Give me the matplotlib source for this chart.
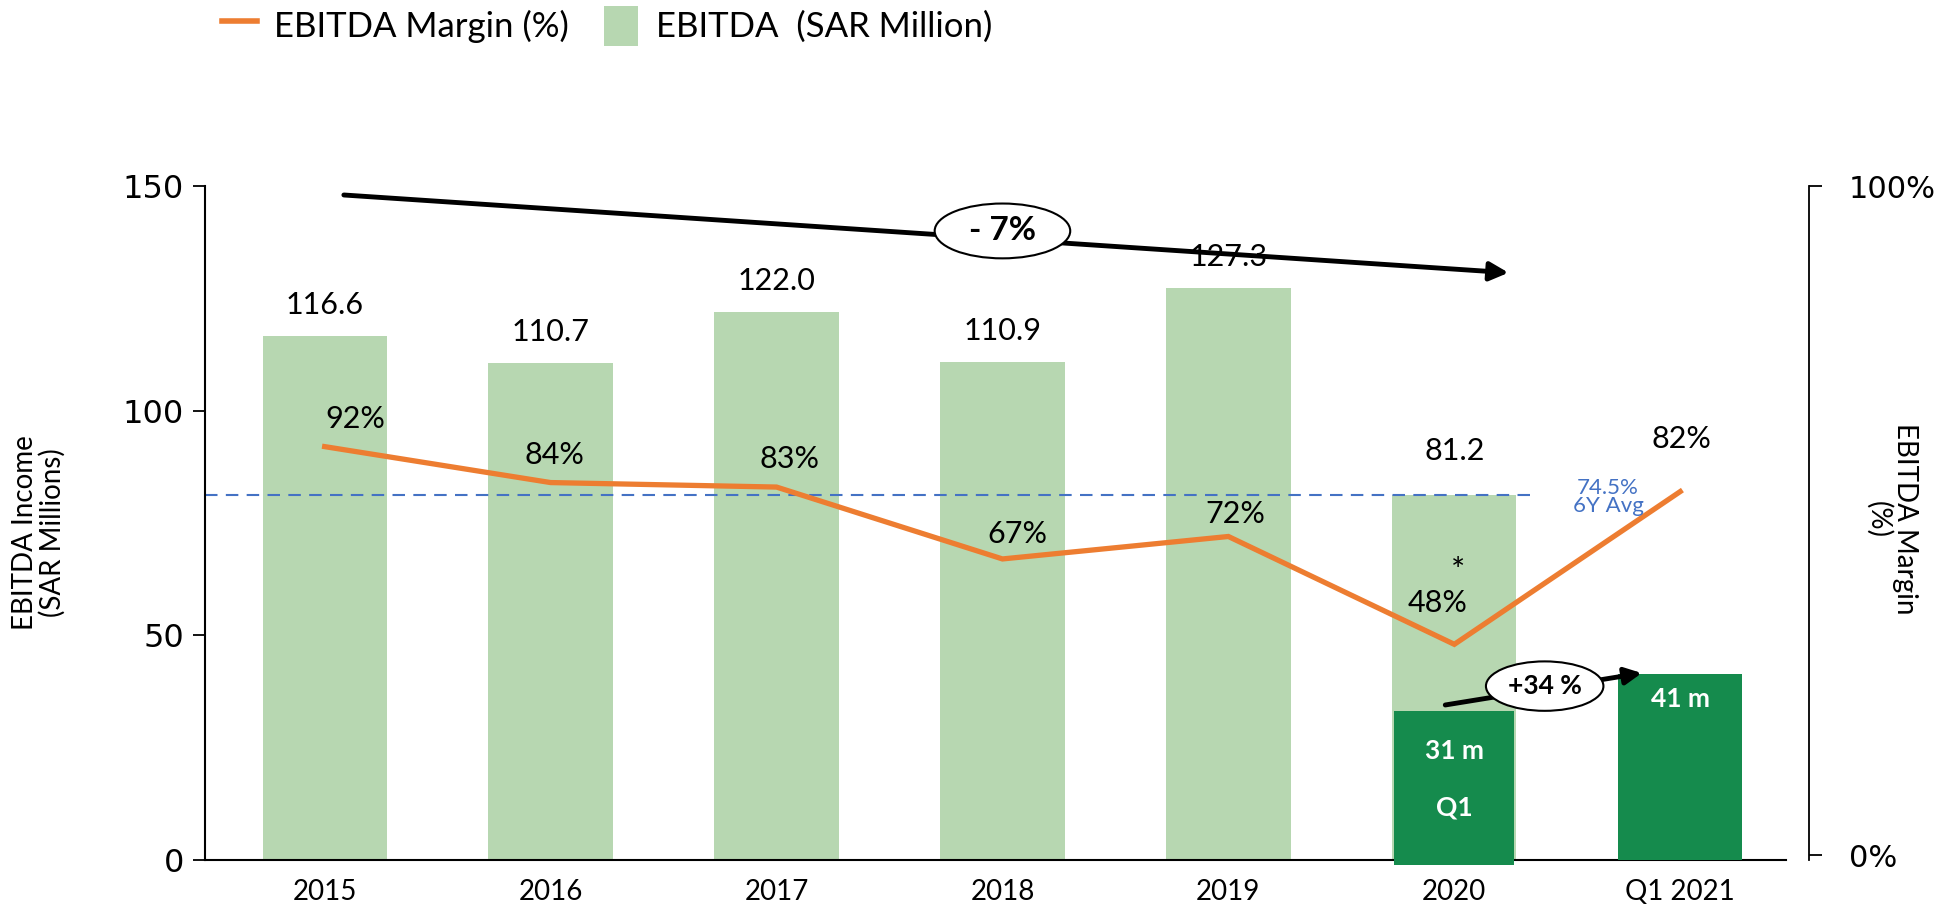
import matplotlib
matplotlib.use("Agg")
import matplotlib.pyplot as plt
from matplotlib.lines import Line2D
from matplotlib.patches import Patch, Ellipse

# data
categories = ["2015", "2016", "2017", "2018", "2019", "2020", "Q1 2021"]
ebitda = [116.6, 110.7, 122.0, 110.9, 127.3, 81.2]          # SAR million, full years
ebitda_labels = ["116.6", "110.7", "122.0", "110.9", "127.3", "81.2"]
margin = [92, 84, 83, 67, 72, 48, 82]                       # EBITDA margin (%)
margin_labels = ["92%", "84%", "83%", "67%", "72%", "48%", "82%"]
q1_index = [5, 6]                                           # Q1 2020 and Q1 2021
q1_values = [33.2, 41.4]
q1_labels = ["31 m", "41 m"]
avg_level = 81.3
avg_text = "74.5%\n6Y Avg"

light_green = "#B7D7B1"
dark_green = "#158B4D"
orange = "#ED7D31"
blue = "#4472C4"
font = "Lato"

fig = plt.figure(figsize=(19.46, 9.19), dpi=100)
ax = fig.add_axes([0.1053, 0.0642, 0.8127, 0.7334])

x = list(range(len(categories)))

# light green yearly bars
ax.bar(x[:len(ebitda)], ebitda, width=0.55, color=light_green, zorder=1)
for i, (v, lab) in enumerate(zip(ebitda, ebitda_labels)):
    off = 22 if i == 5 else 12
    ax.annotate(lab, (i, v), xytext=(0, off), textcoords="offset points",
                ha="center", va="bottom", fontsize=22, family=font)

# dark green Q1 bars (the 2020 one hangs a little below the axis, like the original)
ax.bar(q1_index[0], q1_values[0] + 1.2, bottom=-1.2, width=0.53, color=dark_green,
       zorder=3, clip_on=False)
ax.bar(q1_index[1], q1_values[1], width=0.55, color=dark_green, zorder=3)
ax.text(q1_index[0], q1_values[0] - 9, q1_labels[0], ha="center", va="center",
        color="white", fontsize=19, fontweight="bold", family=font, zorder=6)
ax.text(q1_index[0], q1_values[0] - 21.5, "Q1", ha="center", va="center",
        color="white", fontsize=19, fontweight="bold", family=font, zorder=6)
ax.text(q1_index[1], q1_values[1] - 5.5, q1_labels[1], ha="center", va="center",
        color="white", fontsize=19, fontweight="bold", family=font, zorder=6)

# 6 year average dashed line
ax.hlines(avg_level, -0.53, 5.37, colors=blue, linestyles=(0, (6, 4)), lw=1.5, zorder=2)
ax.text(5.68, avg_level - 0.5, avg_text, ha="center", va="center", color=blue,
        fontsize=16, family=font, linespacing=0.85, zorder=6)

# margin line (drawn on the left scale, as in the original)
ax.plot(x, margin, color=orange, lw=3.8, zorder=4, solid_joinstyle="miter")
lab_off = [(22, 20), (3, 20), (9, 20), (11, 18), (5, 16), (-12, 30), (1, 38)]
for xi, m, lab, (dx, dy) in zip(x, margin, margin_labels, lab_off):
    ax.annotate(lab, (xi, m), xytext=(dx, dy), textcoords="offset points",
                ha="center", va="center", fontsize=22, family=font, zorder=6)
ax.annotate("*", (5, margin[5]), xytext=(3, 52), textcoords="offset points",
            ha="center", va="center", fontsize=24, family=font, zorder=6)

# trend arrows with ovals
ax.annotate("", xy=(5.24, 130.7), xytext=(0.085, 148),
            arrowprops=dict(arrowstyle="-|>", lw=3.5, color="black",
                            mutation_scale=28, shrinkA=0, shrinkB=0), zorder=5)
ax.add_patch(Ellipse((3.0, 140), 0.6, 12.2, facecolor="white", edgecolor="black",
                     lw=1.5, zorder=6))
ax.text(3.0, 140, "- 7%", ha="center", va="center", fontsize=24,
        fontweight="bold", family=font, zorder=7)

ax.annotate("", xy=(5.83, 41.6), xytext=(4.96, 34.5),
            arrowprops=dict(arrowstyle="-|>", lw=3.5, color="black",
                            mutation_scale=25, shrinkA=0, shrinkB=0), zorder=5)
ax.add_patch(Ellipse((5.40, 38.7), 0.52, 11.0, facecolor="white", edgecolor="black",
                     lw=1.5, zorder=6))
ax.text(5.40, 38.7, "+34 %", ha="center", va="center", fontsize=19,
        fontweight="bold", family=font, zorder=7)

# axes styling
ax.set_xlim(-0.53, 6.47)
ax.set_ylim(0, 150)
ax.set_yticks([0, 50, 100, 150])
ax.set_xticks(x)
ax.set_xticklabels(categories, fontsize=20, family=font)
ax.tick_params(axis="x", length=0, pad=14)
ax.tick_params(axis="y", length=9, width=1.3, direction="out", labelsize=23, pad=6)
for side in ["top", "right"]:
    ax.spines[side].set_visible(False)
ax.spines["left"].set_linewidth(1.5)
ax.spines["bottom"].set_linewidth(1.5)

# right axis (0-100%)
ax2 = ax.twinx()
ax2.set_ylim(-0.007, 1.0)
ax2.set_yticks([0, 1])
ax2.set_yticklabels(["0%", "100%"])
ax2.spines["right"].set_position(("outward", 16))
ax2.spines["right"].set_linewidth(1.3)
for side in ["top", "left", "bottom"]:
    ax2.spines[side].set_visible(False)
ax2.tick_params(axis="y", length=9, width=1.3, direction="out", labelsize=22, pad=20)

fig.text(0.020, 0.42, "EBITDA Income\n(SAR Millions)", rotation=90, ha="center",
         va="center", fontsize=20, family=font, linespacing=1.0)
fig.text(0.972, 0.435, "EBITDA Margin\n(%)", rotation=270, ha="center",
         va="center", fontsize=20, family=font, linespacing=1.0)

handles = [Line2D([0], [0], color=orange, lw=4),
           Patch(facecolor=light_green, edgecolor="none")]
fig.legend(handles, ["EBITDA Margin (%)", "EBITDA  (SAR Million)"],
           loc="center", bbox_to_anchor=(0.312, 0.972), ncol=2, frameon=False,
           prop={"family": font, "size": 25}, handlelength=1.0, handleheight=1.4,
           columnspacing=1.0, handletextpad=0.5)

fig.savefig("out.png", dpi=100)
